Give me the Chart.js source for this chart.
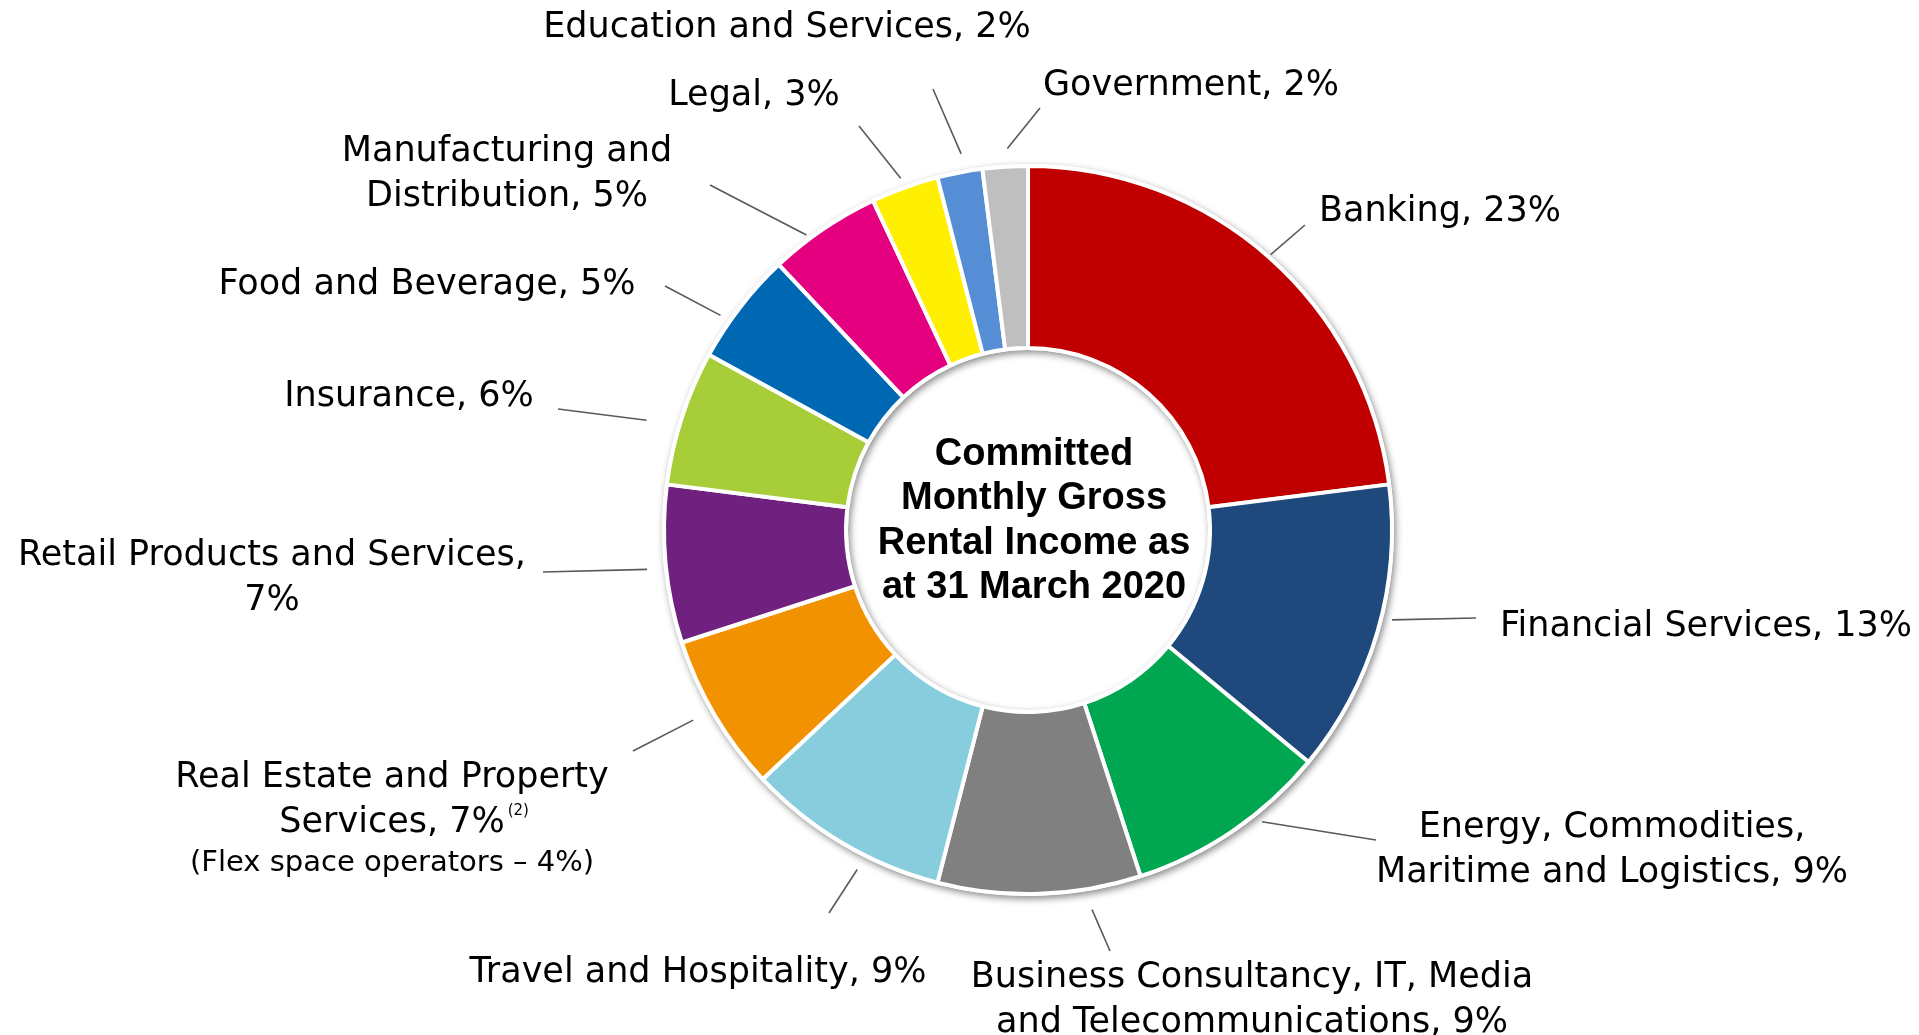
<!DOCTYPE html>
<html>
<head>
<meta charset="utf-8">
<script src="https://cdn.jsdelivr.net/npm/chart.js@4.4.1/dist/chart.umd.min.js"></script>
<style>
html,body{margin:0;padding:0;background:#ffffff;overflow:hidden}
#wrap{position:relative;width:1919px;height:1035px}
</style>
</head>
<body>
<div id="wrap"><canvas id="c" width="1919" height="1035"></canvas></div>
<script>
// ---------------- data ----------------
const categories = [
  "Banking",
  "Financial Services",
  "Energy, Commodities, Maritime and Logistics",
  "Business Consultancy, IT, Media and Telecommunications",
  "Travel and Hospitality",
  "Real Estate and Property Services",
  "Retail Products and Services",
  "Insurance",
  "Food and Beverage",
  "Manufacturing and Distribution",
  "Legal",
  "Education and Services",
  "Government"
];
const values = [23, 13, 9, 9, 9, 7, 7, 6, 5, 5, 3, 2, 2];
const colors = [
  "#C00000", "#1F497D", "#00A650", "#808080", "#87CDDE", "#F39200", "#70207F",
  "#A7CE39", "#0068B3", "#E4007F", "#FFEF00", "#558ED5", "#BFBFBF"
];
// how each category label is broken into lines (the value is appended to the last line)
const labelLines = [
  ["Banking"],
  ["Financial Services"],
  ["Energy, Commodities,", "Maritime and Logistics"],
  ["Business Consultancy, IT, Media", "and Telecommunications"],
  ["Travel and Hospitality"],
  ["Real Estate and Property", "Services"],
  ["Retail Products and Services,", ""],
  ["Insurance"],
  ["Food and Beverage"],
  ["Manufacturing and", "Distribution"],
  ["Legal"],
  ["Education and Services"],
  ["Government"]
];
const footnoteIndex = 5;
const footnoteMark = "(2)";
const footnoteLine = "(Flex space operators \u2013 4%)";
const centerTitle = ["Committed", "Monthly Gross", "Rental Income as", "at 31 March 2020"];

// ---------------- layout (label anchors relative to the ring centre) ----------------
// tx,ty: first-line baseline centre; lx,ly: outer end of leader; t: position inside slice; gap: beyond ring
const labelLayout = [
  {tx: 412,  ty: -309, lx: 277,  ly: -305, t: 0.50, gap: 3},
  {tx: 678,  ty: 106,  lx: 448,  ly: 88,   t: 0.45, gap: 11},
  {tx: 584,  ty: 307,  lx: 348,  ly: 310,  t: 0.36, gap: 10},
  {tx: 224,  ty: 457,  lx: 82,   ly: 421,  t: 0.26, gap: 21},
  {tx: -330, ty: 452,  lx: -199, ly: 383,  t: 0.38, gap: 16},
  {tx: -636, ty: 257,  lx: -395, ly: 221,  t: 0.54, gap: 21},
  {tx: -756, ty: 35,   lx: -485, ly: 42,   t: 0.48, gap: 19},
  {tx: -619, ty: -124, lx: -470, ly: -121, t: 0.41, gap: 33},
  {tx: -601, ty: -236, lx: -363, ly: -244, t: 0.34, gap: 11},
  {tx: -521, ty: -369, lx: -318, ly: -345, t: 0.35, gap: 5},
  {tx: -274, ty: -425, lx: -169, ly: -404, t: 0.49, gap: 10},
  {tx: -241, ty: -493, lx: -95,  ly: -441, t: 0.60, gap: 18},
  {tx: 163,  ty: -435, lx: 12,   ly: -422, t: 0.57, gap: 18}
];
const LABEL_FONT = '35px "DejaVu Sans"';
const LINE_H = 45;

const ringShadow = {
  id: 'ringShadow',
  beforeDatasetsDraw(chart) {
    const arc = chart.getDatasetMeta(0).data[0];
    if (!arc) return;
    const {x, y, outerRadius, innerRadius} = arc.getProps(['x', 'y', 'outerRadius', 'innerRadius'], true);
    const ctx = chart.ctx;
    ctx.save();
    ctx.shadowColor = 'rgba(0,0,0,0.45)';
    ctx.shadowBlur = 7;
    ctx.shadowOffsetX = 2;
    ctx.shadowOffsetY = 3;
    ctx.fillStyle = '#ffffff';
    ctx.beginPath();
    ctx.arc(x, y, outerRadius + 2, 0, Math.PI * 2);
    ctx.arc(x, y, Math.max(innerRadius - 2, 0), 0, Math.PI * 2, true);
    ctx.fill('evenodd');
    ctx.restore();
  }
};

const labelsPlugin = {
  id: 'labelsPlugin',
  afterDatasetsDraw(chart) {
    const meta = chart.getDatasetMeta(0);
    const ctx = chart.ctx;
    ctx.save();
    meta.data.forEach((arc, i) => {
      const p = arc.getProps(['x', 'y', 'startAngle', 'endAngle', 'outerRadius'], true);
      const L = labelLayout[i];
      const a = p.startAngle + L.t * (p.endAngle - p.startAngle);
      const r = p.outerRadius + L.gap;
      // leader line
      ctx.strokeStyle = '#595959';
      ctx.lineWidth = 1.6;
      ctx.beginPath();
      ctx.moveTo(p.x + L.lx, p.y + L.ly);
      ctx.lineTo(p.x + r * Math.cos(a), p.y + r * Math.sin(a));
      ctx.stroke();
      // text
      const lines = labelLines[i].slice();
      const last = lines.length - 1;
      lines[last] = lines[last] === '' ? values[i] + '%' : lines[last] + ', ' + values[i] + '%';
      ctx.fillStyle = '#000000';
      ctx.font = LABEL_FONT;
      ctx.textAlign = 'center';
      ctx.textBaseline = 'alphabetic';
      const cx = p.x + L.tx;
      lines.forEach((s, k) => ctx.fillText(s, cx, p.y + L.ty + k * LINE_H));
      if (i === footnoteIndex) {
        const by = p.y + L.ty + last * LINE_H;
        const w = ctx.measureText(lines[last]).width;
        ctx.font = '15px "DejaVu Sans"';
        ctx.textAlign = 'left';
        ctx.fillText(footnoteMark, cx + w / 2 + 3, by - 17);
        ctx.font = '29px "DejaVu Sans"';
        ctx.textAlign = 'center';
        ctx.fillText(footnoteLine, cx, by + 39);
      }
    });
    // centre title
    const c = meta.data[0].getProps(['x', 'y'], true);
    ctx.font = 'bold 38px "Liberation Sans"';
    ctx.textAlign = 'center';
    ctx.fillStyle = '#000000';
    const start = -65;
    centerTitle.forEach((s, k) => ctx.fillText(s, c.x + 6, c.y + start + k * 44.3));
    ctx.restore();
  }
};

new Chart(document.getElementById('c'), {
  type: 'doughnut',
  data: {
    labels: categories,
    datasets: [{
      data: values,
      backgroundColor: colors,
      borderColor: '#ffffff',
      borderWidth: 4,
      hoverBorderWidth: 4
    }]
  },
  options: {
    responsive: false,
    animation: false,
    cutout: '50%',
    rotation: 0,
    layout: {padding: {left: 662, right: 525, top: 163, bottom: 138}},
    plugins: {
      legend: {display: false},
      tooltip: {enabled: false},
      title: {display: false}
    }
  },
  plugins: [ringShadow, labelsPlugin]
});
</script>
</body>
</html>
